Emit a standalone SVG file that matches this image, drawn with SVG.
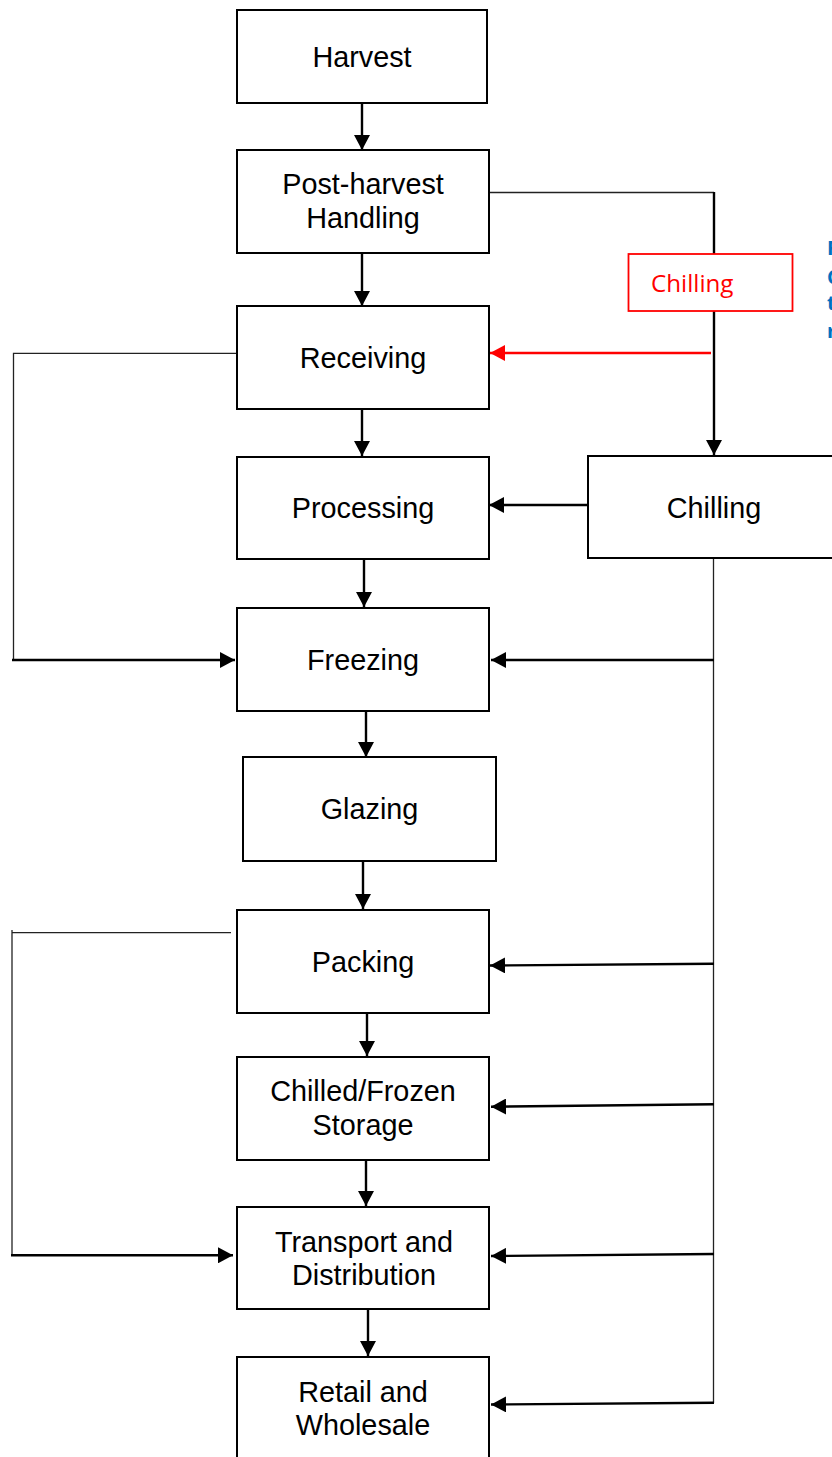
<svg xmlns="http://www.w3.org/2000/svg" width="832" height="1457" viewBox="0 0 832 1457">
<style>
.box{fill:#fff;stroke:#000;stroke-width:2}
.lbl{font-family:"Liberation Sans",Arial,sans-serif;font-size:28.8px;fill:#000;text-anchor:middle}
.thin{fill:none;stroke:#222;stroke-width:1.3}
.thick{fill:none;stroke:#000;stroke-width:2.4}
.red{fill:none;stroke:#ff0000;stroke-width:2.6}
</style>
<defs>
<marker id="ah" markerUnits="userSpaceOnUse" markerWidth="15" markerHeight="16" refX="15" refY="8" orient="auto" viewBox="0 0 15 16">
<path d="M0,0 L15,8 L0,16 Z" fill="#000"/>
</marker>
<marker id="ahr" markerUnits="userSpaceOnUse" markerWidth="15" markerHeight="16" refX="15" refY="8" orient="auto" viewBox="0 0 15 16">
<path d="M0,0 L15,8 L0,16 Z" fill="#ff0000"/>
</marker>
</defs>
<rect width="832" height="1457" fill="#fff"/>

<g id="connectors">
<line class="thick" x1="362" y1="103" x2="362" y2="150" marker-end="url(#ah)"/>
<line class="thick" x1="362" y1="253" x2="362" y2="306" marker-end="url(#ah)"/>
<line class="thick" x1="362" y1="409" x2="362" y2="456" marker-end="url(#ah)"/>
<line class="thick" x1="364" y1="560" x2="364" y2="607" marker-end="url(#ah)"/>
<line class="thick" x1="366" y1="711" x2="366" y2="757" marker-end="url(#ah)"/>
<line class="thick" x1="363" y1="861" x2="363" y2="909" marker-end="url(#ah)"/>
<line class="thick" x1="367" y1="1013" x2="367" y2="1056" marker-end="url(#ah)"/>
<line class="thick" x1="366" y1="1160" x2="366" y2="1206" marker-end="url(#ah)"/>
<line class="thick" x1="368" y1="1310" x2="368" y2="1356" marker-end="url(#ah)"/>

<polyline class="thin" points="489,192.5 714,192.5"/>
<line class="thick" x1="714" y1="192" x2="714" y2="455" marker-end="url(#ah)"/>

<line class="red" x1="711" y1="353" x2="490" y2="353" marker-end="url(#ahr)"/>

<line class="thick" x1="588" y1="505" x2="489" y2="505" marker-end="url(#ah)"/>

<line class="thin" x1="713.5" y1="558" x2="713.5" y2="1403"/>
<line class="thick" x1="714" y1="660" x2="491" y2="660" marker-end="url(#ah)"/>
<line class="thick" x1="714" y1="963.7" x2="490" y2="965.5" marker-end="url(#ah)"/>
<line class="thick" x1="714" y1="1104.3" x2="491" y2="1106.7" marker-end="url(#ah)"/>
<line class="thick" x1="714" y1="1254" x2="491" y2="1256" marker-end="url(#ah)"/>
<line class="thick" x1="714" y1="1402.7" x2="491" y2="1404.5" marker-end="url(#ah)"/>

<polyline class="thin" points="237,353.3 13.5,353.3 13.5,660"/>
<line class="thick" x1="12" y1="660" x2="235" y2="660" marker-end="url(#ah)"/>

<polyline class="thin" points="231,932.7 12,932.7"/>
<line class="thin" x1="12" y1="930" x2="12" y2="1255.5"/>
<line class="thick" x1="11" y1="1255.3" x2="233" y2="1255.3" marker-end="url(#ah)"/>
</g>

<g id="harvest"><rect class="box" x="237" y="10" width="250" height="93"/><text class="lbl" x="362" y="66.7">Harvest</text></g>
<g id="post-harvest"><rect class="box" x="237" y="150" width="252" height="103"/><text class="lbl" x="363" y="194">Post-harvest</text><text class="lbl" x="363" y="228">Handling</text></g>
<g id="receiving"><rect class="box" x="237" y="306" width="252" height="103"/><text class="lbl" x="363" y="368">Receiving</text></g>
<g id="processing"><rect class="box" x="237" y="457" width="252" height="102"/><text class="lbl" x="363" y="518">Processing</text></g>
<g id="freezing"><rect class="box" x="237" y="608" width="252" height="103"/><text class="lbl" x="363" y="670">Freezing</text></g>
<g id="glazing"><rect class="box" x="243" y="757" width="253" height="104"/><text class="lbl" x="369.5" y="819">Glazing</text></g>
<g id="packing"><rect class="box" x="237" y="910" width="252" height="103"/><text class="lbl" x="363" y="972">Packing</text></g>
<g id="storage"><rect class="box" x="237" y="1057" width="252" height="103"/><text class="lbl" x="363" y="1101">Chilled/Frozen</text><text class="lbl" x="363" y="1135">Storage</text></g>
<g id="transport"><rect class="box" x="237" y="1207" width="252" height="102"/><text class="lbl" x="364" y="1251.5">Transport and</text><text class="lbl" x="364" y="1285">Distribution</text></g>
<g id="retail"><rect class="box" x="237" y="1357" width="252" height="120"/><text class="lbl" x="363" y="1401.7">Retail and</text><text class="lbl" x="363" y="1435">Wholesale</text></g>
<g id="chilling"><rect class="box" x="588" y="456" width="260" height="102"/><text class="lbl" x="714" y="518.3">Chilling</text></g>

<g id="chilling-red">
<rect x="628.5" y="254" width="164" height="57" fill="#fff" stroke="#ff0000" stroke-width="1.8"/>
<text x="651" y="292" font-family="'Open Sans','Noto Sans',sans-serif" font-size="24.2" fill="#ff0000">Chilling</text>
</g>

<g id="note" font-family="'Open Sans','Noto Sans',sans-serif" font-size="20" font-weight="bold" fill="#0070c0">
<text x="827" y="255">R</text>
<text x="827" y="284">C</text>
<text x="827" y="310">t</text>
<text x="827" y="338">r</text>
</g>
</svg>
